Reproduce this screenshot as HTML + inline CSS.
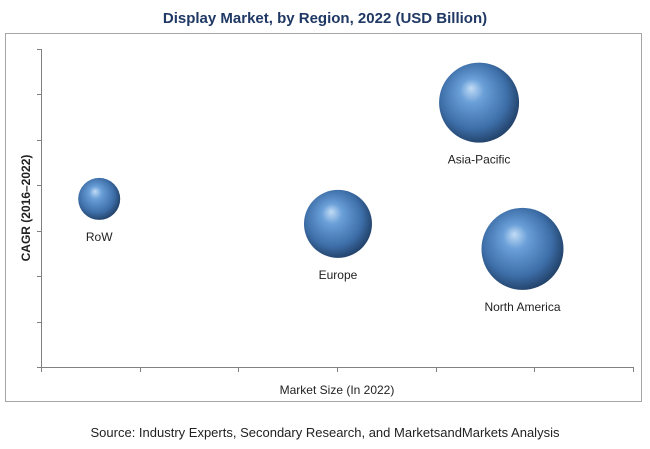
<!DOCTYPE html>
<html><head><meta charset="utf-8"><style>
body{margin:0;background:#fff;width:650px;height:444px;overflow:hidden;font-family:"Liberation Sans",sans-serif}
</style></head><body>
<svg width="650" height="444" viewBox="0 0 650 444">
<defs>
<radialGradient id="bub" cx="0.45" cy="0.45" r="0.6" fx="0.4" fy="0.32">
<stop offset="0" stop-color="#c2dcf5"/>
<stop offset="0.25" stop-color="#6a9fd8"/>
<stop offset="0.7" stop-color="#3d6ea8"/>
<stop offset="1" stop-color="#1d3a5e"/>
</radialGradient>
</defs>
<text x="325" y="23" text-anchor="middle" font-size="15" font-weight="bold" fill="#1f3864">Display Market, by Region, 2022 (USD Billion)</text>
<rect x="5.5" y="33.5" width="636" height="368" fill="none" stroke="#a6a6a6"/>
<g id="axes"></g>
<g id="bubbles"></g>
<text x="337" y="394" text-anchor="middle" font-size="12" fill="#222">Market Size (In 2022)</text>
<text transform="translate(30,208) rotate(-90)" text-anchor="middle" font-size="12" font-weight="bold" fill="#222">CAGR (2016–2022)</text>
<text x="325" y="437" text-anchor="middle" font-size="13" fill="#222">Source: Industry Experts, Secondary Research, and MarketsandMarkets Analysis</text>
</svg>
<script>
const regions=["RoW","Europe","Asia-Pacific","North America"];
const marketSize=[0.59,3.01,4.44,4.88];
const cagr=[3.7,3.15,5.82,2.6];
const bubbleSize=[21,34,40,41];
const xTicks=[0,1,2,3,4,5,6];
const yTicks=[0,1,2,3,4,5,6,7];
const X0=41,X1=633,Y0=367,Y1=49;
const sx=v=>X0+(X1-X0)*v/6, sy=v=>Y0-(Y0-Y1)*v/7;
const NS="http://www.w3.org/2000/svg";
const ax=document.getElementById('axes');
function ln(x1,y1,x2,y2,name){const l=document.createElementNS(NS,'line');
l.setAttribute('x1',x1);l.setAttribute('y1',y1);l.setAttribute('x2',x2);l.setAttribute('y2',y2);
l.setAttribute('stroke','#808080');l.setAttribute('stroke-width','1');


ax.appendChild(l);}
ln(X0+0.5,Y1,X0+0.5,Y0+0.5,'y-axis');
ln(X0,Y0+0.5,X1,Y0+0.5,'x-axis');
yTicks.forEach(t=>ln(X0-4,Math.round(sy(t))+0.5,X0,Math.round(sy(t))+0.5,'y-tick'));
xTicks.forEach(t=>ln(Math.round(sx(t))+0.5,Y0,Math.round(sx(t))+0.5,Y0+5,'x-tick'));
const bg=document.getElementById('bubbles');
regions.forEach((r,i)=>{
const cx=sx(marketSize[i]),cy=sy(cagr[i]),rad=bubbleSize[i];
const c=document.createElementNS(NS,'circle');
c.setAttribute('cx',cx);c.setAttribute('cy',cy);c.setAttribute('r',rad);c.setAttribute('fill','url(#bub)');


bg.appendChild(c);
const t=document.createElementNS(NS,'text');
t.setAttribute('x',cx);t.setAttribute('y',cy+rad+21);t.setAttribute('text-anchor','middle');
t.setAttribute('font-size','12');t.setAttribute('fill','#222');t.textContent=r;


bg.appendChild(t);
});
</script>
</body></html>
